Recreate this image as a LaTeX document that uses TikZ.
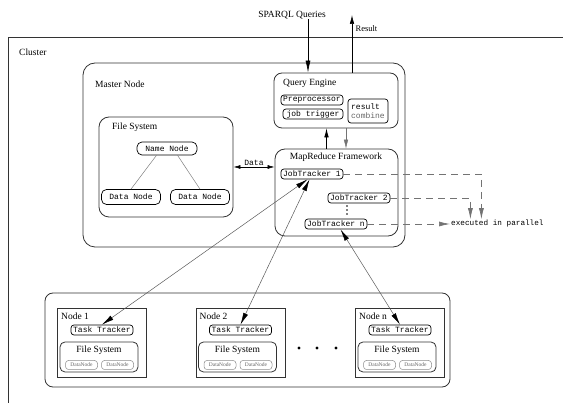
\documentclass[tikz,border=0pt]{standalone}
\usepackage{fontspec}
\setmainfont{Liberation Serif}
\setmonofont{Liberation Mono}
\usetikzlibrary{shapes,arrows.meta,positioning}
\tikzstyle{region}=[draw=black!80,line width=0.8pt,rounded corners=10pt,inner sep=0pt]
\tikzstyle{host}=[draw=black!80,line width=0.8pt,inner sep=0pt]
\tikzstyle{title}=[font=\fontsize{9.5}{11}\selectfont,inner sep=0pt]
\tikzstyle{tag}=[draw,rounded corners=3pt,line width=0.7pt,font=\ttfamily\fontsize{8}{9}\selectfont,inner sep=0pt,minimum height=10pt]
\tikzstyle{mini}=[draw=black!45,rounded corners=3pt,line width=0.5pt,font=\fontsize{5.5}{6}\selectfont,text=black!60,inner sep=0pt,minimum width=32pt,minimum height=9pt]
\tikzstyle{link}=[draw=black!50,line width=0.5pt]
\tikzstyle{rpc}=[{Latex[length=12pt,width=5pt,color=black]}-{Latex[length=12pt,width=5pt,color=black]},black!65,line width=0.5pt]
\tikzstyle{par}=[-{Latex[length=11pt,width=5pt]},black!55,line width=0.7pt,dash pattern=on 7pt off 5pt]
\tikzstyle{arr}=[-{Latex[length=9pt,width=4.5pt]},line width=0.6pt]

\begin{document}
\begin{tikzpicture}[x=1pt,y=-1pt]
\useasboundingbox (0,0) rectangle (563,403);
% cluster frame runs off the page
\draw[black!80,line width=0.8pt] (8,403) -- (8,37) -- (563,37);
\node[title,anchor=west] (cluster) at (19,52) {Cluster};

% master node
\node[region,minimum width=322,minimum height=184,rounded corners=12pt] (master) at (244,155) {};
\node[title,anchor=west] (mastert) at (95,84) {Master Node};

% query engine
\node[region,minimum width=124,minimum height=55,rounded corners=8pt] (qe) at (336,100.5) {};
\node[title,anchor=west] (qet) at (283,83) {Query Engine};
\node[tag,minimum width=62] (pre) at (312,100) {Preprocessor};
\node[tag,minimum width=60] (job) at (313,114) {job trigger};
\node[tag,minimum width=40,minimum height=24,align=left] (comb) at (368,111) {result\\\textcolor{black!60}{combine}};

% mapreduce framework
\node[region,minimum width=123,minimum height=87] (mr) at (336.5,192.5) {};
\node[title] (mrt) at (336,157) {MapReduce Framework};
\node[tag,minimum width=62] (jt1) at (312,174) {JobTracker 1};
\node[tag,minimum width=62] (jt2) at (359,198) {JobTracker 2};
\node[tag,minimum width=62] (jtn) at (336,224) {JobTracker n};
\foreach \dy in {206,210,214}
  \fill (347,\dy) circle (0.8pt);

% file system of the master
\node[region,minimum width=134,minimum height=100] (fs) at (166,167) {};
\node[title,anchor=west] (fst) at (112,127) {File System};
\node[tag,minimum width=60,minimum height=13,rounded corners=5pt] (nn) at (167,148.5) {Name Node};
\node[tag,minimum width=59,minimum height=15,rounded corners=5pt] (dn1) at (131,197) {Data Node};
\node[tag,minimum width=59,minimum height=15,rounded corners=5pt] (dn2) at (200,197) {Data Node};
\draw[link] (nn.213) -- (dn1.north);
\draw[link] (nn.327) -- (dn2.north);

% worker nodes
\node[region,minimum width=405,minimum height=94,rounded corners=8pt] (workers) at (247.5,340) {};
\foreach \cx/\k/\nm in {102/1/a,240.5/2/b,400/n/c}{
  \node[host,minimum width=89,minimum height=69] (host\nm) at (\cx,342.5) {};
  \node[title,anchor=west] (lbl\nm) at (\cx-41,316) {Node \k};
  \node[tag,minimum width=62] (tt\nm) at (\cx,330) {Task Tracker};
  \node[region,minimum width=78,minimum height=30,rounded corners=5pt] (wfs\nm) at (\cx-3,357) {};
  \node[title] (wfst\nm) at (\cx-3,350) {File System};
  \node[mini] (dna\nm) at (\cx-20.5,365) {DataNode};
  \node[mini] (dnb\nm) at (\cx+15.5,365) {DataNode};
}
\foreach \dx in {299,317,336}
  \fill (\dx,348) circle (1.6pt);

% connections
\node[title] (sparql) at (292,15) {SPARQL Queries};
\draw[-{Latex[length=12pt,width=5pt]},line width=0.6pt] ([xshift=-28pt]qe.north |- sparql.south) -- ([xshift=-28pt]qe.north);
\coordinate (res) at (352,15);
\draw[arr] (res |- qe.north) -- (res) node[pos=0.77,right,font=\fontsize{8.5}{9}\selectfont] {Result};
\draw[arr] ([xshift=-10pt]mr.north) -- ([xshift=-10pt]mr.north |- qe.south);
\draw[arr,black!55,line width=0.4pt] ([xshift=10pt]qe.south) -- ([xshift=10pt]qe.south |- mr.north);
\draw[{Latex[length=7pt,width=4pt]}-{Latex[length=7pt,width=4pt]},line width=0.6pt] (fs.east) -- node[above,font=\ttfamily\fontsize{8}{8}\selectfont,inner sep=1pt] {Data} (fs.east -| mr.west);
\draw[rpc] (tta.north) -- (jt1.230);
\draw[rpc] (ttb.north) -- (jt1.245);
\draw[rpc] (ttc.north) -- (jtn.-50);

\node[font=\ttfamily\fontsize{7.7}{8}\selectfont,anchor=west,inner sep=1pt] (exec) at (450,224) {executed in parallel};
\draw[par] (jt1.east) -| ([xshift=-16pt]exec.north);
\draw[par] (jt2.east) -| ([xshift=-27pt]exec.north);
\draw[par] (jtn.east) -- (exec.west);
\end{tikzpicture}
\end{document}
